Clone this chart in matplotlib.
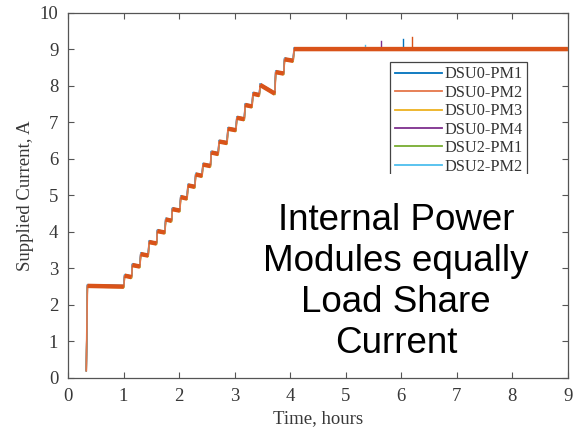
import matplotlib
matplotlib.use('Agg')
import matplotlib.pyplot as plt
from matplotlib.patches import Rectangle

# step profile (hours, amps)
t_start = [0.35, 1.02, 1.16, 1.31, 1.46, 1.61, 1.76, 1.88, 2.03, 2.16, 2.30,
           2.43, 2.58, 2.72, 2.88, 3.04, 3.19, 3.33, 3.46, 3.74, 3.90, 4.07]
lvl_a = [2.52, 2.80, 3.09, 3.39, 3.72, 4.02, 4.34, 4.62, 4.95, 5.27, 5.57,
         5.84, 6.17, 6.47, 6.82, 7.12, 7.47, 7.78, 8.02, 8.37, 8.72, 9.00]
lvl_b = [2.50, 2.76, 3.05, 3.35, 3.68, 3.98, 4.30, 4.58, 4.91, 5.23, 5.53,
         5.80, 6.13, 6.43, 6.78, 7.08, 7.43, 7.74, 7.78, 8.33, 8.68, 9.00]
t_first, i_first = 0.33, 0.2
t_last = 9.0

labels = ['DSU0-PM1', 'DSU0-PM2', 'DSU0-PM3', 'DSU0-PM4', 'DSU2-PM1', 'DSU2-PM2']
colors = ['#0072BD', '#D95319', '#EDB120', '#7E2F8E', '#77AC30', '#4DBEEE']
offsets = [0.03, 0.0, -0.03, 0.02, -0.02, 0.03]

# short spikes on the 9 A plateau: (series index, time, peak)
spike_series = [3, 0, 1, 5]
spike_t = [5.64, 6.04, 6.20, 5.35]
spike_peak = [9.22, 9.28, 9.33, 9.12]

gap = 0.015
t_end = [t - gap for t in t_start[1:]] + [t_last]


def profile(off):
    xs, ys = [t_first], [i_first]
    for a, b, la, lb in zip(t_start, t_end, lvl_a, lvl_b):
        xs += [a, b]
        ys += [la + off, lb + off]
    return xs, ys


fig = plt.figure(figsize=(5.86, 4.32), dpi=100)
ax = fig.add_axes([0.116, 0.125, 0.853, 0.846])

handles = {}
order = [0, 2, 3, 4, 5, 1]
for k in order:
    xs, ys = profile(offsets[k])
    lw = 1.2 if k == 1 else 1.0
    col = '#E5764A' if k == 1 else colors[k]
    h, = ax.plot(xs, ys, color=col, lw=lw, zorder=2 + (k == 1))
    handles[k] = h

# thick noisy-looking plateaus of DSU0-PM2 on top
px, py = [], []
for a, b, la, lb in zip(t_start, t_end, lvl_a, lvl_b):
    px += [a, b, float('nan')]
    py += [la, lb, float('nan')]
ax.plot(px, py, color=colors[1], lw=3.2, solid_capstyle='butt', zorder=3)

for k, ts, pk in zip(spike_series, spike_t, spike_peak):
    ax.plot([ts, ts], [9.0, pk], color=colors[k], lw=1.0, zorder=2.5)

ax.set_xlim(0, 9)
ax.set_ylim(0, 10)
ax.set_xticks(range(0, 10))
ax.set_yticks(range(0, 11))

serif = ['Liberation Serif', 'DejaVu Serif']
for lab in ax.get_xticklabels() + ax.get_yticklabels():
    lab.set_fontfamily(serif)
    lab.set_fontsize(13.5)
ax.tick_params(direction='in', length=4, width=0.8, top=True, right=True,
               colors='#555555', labelcolor='#383838', pad=7)
for s in ax.spines.values():
    s.set_color('#555555')
    s.set_linewidth(0.9)

ax.set_xlabel('Time, hours', fontfamily=serif, fontsize=13.5, color='#383838',
              labelpad=4)
ax.set_ylabel('Supplied Current, A', fontfamily=serif, fontsize=13.5,
              color='#383838', labelpad=4)

leg = ax.legend([handles[k] for k in range(6)], labels,
                loc='upper left', bbox_to_anchor=(0.644, 0.866),
                prop={'family': serif, 'size': 11.7},
                handlelength=2.9, handletextpad=0.15, labelspacing=0.15,
                borderpad=0.3, borderaxespad=0, fancybox=False,
                framealpha=1, edgecolor='#444444')
leg.get_frame().set_linewidth(0.9)
leg.set_zorder(5)
for txt in leg.get_texts():
    txt.set_color('#333333')
for ln in leg.get_lines():
    ln.set_linewidth(1.3)

# white patch hiding the lower part of the legend box
cover = Rectangle((0.63, 0.49), 0.3, (378 - 173.5) / 366 - 0.49,
                  transform=ax.transAxes, facecolor='white',
                  edgecolor='none', zorder=6)
ax.add_patch(cover)

ax.text(0.656, 0.262, 'Internal Power\nModules equally\nLoad Share\nCurrent',
        transform=ax.transAxes, ha='center', va='center', fontsize=26.5,
        fontfamily=['Liberation Sans', 'DejaVu Sans'], color='black',
        linespacing=1.22, zorder=7)

fig.savefig('out.png', dpi=100)
